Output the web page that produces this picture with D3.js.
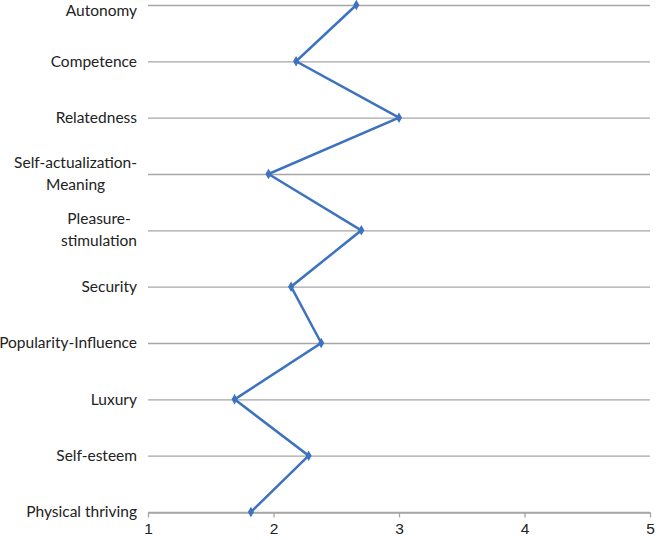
<!DOCTYPE html>
<html lang="en">
<head>
  <meta charset="UTF-8">
  <title>Needs</title>
  <script src="https://d3js.org/d3.v7.min.js"></script>
  <style>
    * { margin: 0; padding: 0; box-sizing: border-box; }
    body { background: #fff; font-family: Lato, "Open Sans", Arial, sans-serif; }
  </style>
</head>
<body>
  <div id="chart"></div>
  <script>
    const categories = ["Autonomy", "Competence", "Relatedness", "Self-actualization-\nMeaning",
                        "Pleasure-\nstimulation", "Security", "Popularity-Influence", "Luxury",
                        "Self-esteem", "Physical thriving"];
    const values = [2.66, 2.18, 3.0, 1.96, 2.70, 2.14, 2.38, 1.69, 2.28, 1.82];
    const xTicks = [1, 2, 3, 4, 5];

    const W = 661, H = 540;
    const margin = {top: 5, right: 11, bottom: 28, left: 148};
    const fontSize = "15.5px";

    const svg = d3.select("#chart").append("svg")
                  .attr("width", W).attr("height", H);

    const x = d3.scaleLinear().domain([1, 5]).range([margin.left, W - margin.right]);
    const y = d3.scalePoint().domain(categories).range([margin.top, H - margin.bottom]);

    // gridlines
    svg.append("g")
       .selectAll("line")
       .data(categories)
       .enter().append("line")
       .attr("x1", x(1)).attr("x2", x(5))
       .attr("y1", d => y(d) + 0.5).attr("y2", d => y(d) + 0.5)
       .attr("stroke", "#a6a6a6")
       .attr("stroke-width", 1.3);

    // x axis at bottom category
    const xAxis = svg.append("g")
       .attr("transform", `translate(0, ${y(categories[categories.length - 1]) + 0.5})`)
       .call(d3.axisBottom(x).tickValues(xTicks).tickSize(5).tickSizeOuter(0).tickFormat(d3.format("d")));
    xAxis.selectAll("path, line").attr("stroke", "#a6a6a6").attr("stroke-width", 1.3);
    xAxis.selectAll("text").attr("fill", "#222").style("font-size", fontSize).attr("dy", "0.85em");

    // y labels
    const labels = svg.append("g");
    categories.forEach((c, i) => {
      const lines = c.split("\n");
      const t = labels.append("text")
        .attr("y", y(c))
        .attr("fill", "#222")
        .style("font-size", fontSize);
      if (lines.length === 1) {
        t.attr("x", 137).attr("text-anchor", "end")
         .attr("dy", i === 0 ? "0.7em" : "0.35em").text(c);
      } else {
        t.attr("text-anchor", "middle");
        lines.forEach((l, j) => {
          t.append("tspan").attr("x", 0).attr("dy", j === 0 ? "-0.4em" : "1.4em").text(l);
        });
        const w = t.node().getBBox().width;
        t.attr("transform", `translate(${137 - w / 2}, 0)`);
      }
    });

    const pts = categories.map((c, i) => [x(values[i]), y(c)]);

    svg.append("path")
       .attr("d", d3.line()(pts))
       .attr("fill", "none")
       .attr("stroke", "#3d72c0")
       .attr("stroke-width", 2.5)
       .attr("stroke-linejoin", "miter");

    svg.append("g")
       .selectAll("path")
       .data(pts)
       .enter().append("path")
       .attr("transform", d => `translate(${d[0]},${d[1]})`)
       .attr("d", d3.symbol().type(d3.symbolDiamond).size(32))
       .attr("fill", "#3d72c0");
  </script>
</body>
</html>
